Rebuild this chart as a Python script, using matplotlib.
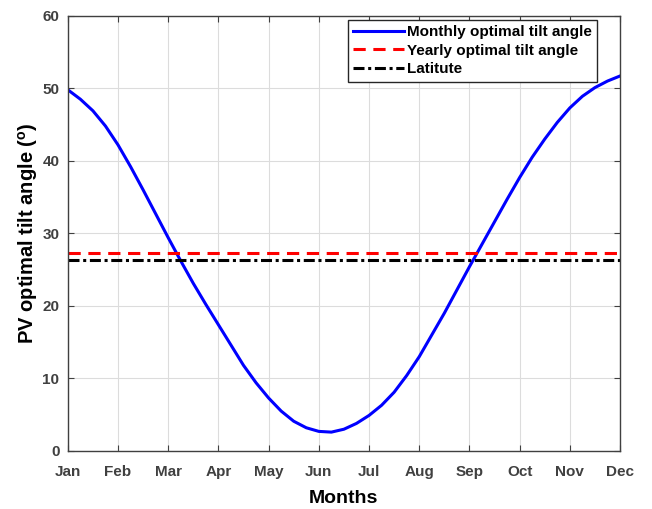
import numpy as np
import matplotlib
matplotlib.use('Agg')
import matplotlib.pyplot as plt

plt.rcParams['font.family'] = ['Liberation Sans', 'DejaVu Sans']
plt.rcParams['mathtext.fontset'] = 'custom'
plt.rcParams['mathtext.bf'] = 'Liberation Sans:bold'

months = ['Jan', 'Feb', 'Mar', 'Apr', 'May', 'Jun',
          'Jul', 'Aug', 'Sep', 'Oct', 'Nov', 'Dec']

# positions in months (1 = Jan) and tilt values, every quarter month
month_pos = [1.0, 1.25, 1.5, 1.75, 2.0, 2.25, 2.5, 2.75,
             3.0, 3.25, 3.5, 3.75, 4.0, 4.25, 4.5, 4.75,
             5.0, 5.25, 5.5, 5.75, 6.0, 6.25, 6.5, 6.75,
             7.0, 7.25, 7.5, 7.75, 8.0, 8.25, 8.5, 8.75,
             9.0, 9.25, 9.5, 9.75, 10.0, 10.25, 10.5, 10.75,
             11.0, 11.25, 11.5, 11.75, 12.0]
monthly_tilt = [49.8, 48.5, 46.9, 44.8, 42.2, 39.2, 36.0, 32.7,
                29.4, 26.2, 23.1, 20.2, 17.4, 14.6, 11.8, 9.4,
                7.3, 5.5, 4.1, 3.2, 2.7, 2.6, 3.0, 3.8,
                4.9, 6.3, 8.1, 10.4, 13.0, 16.0, 19.0, 22.2,
                25.4, 28.5, 31.6, 34.7, 37.7, 40.5, 43.0, 45.3,
                47.3, 48.9, 50.1, 51.0, 51.7]
yearly_tilt = 27.35
latitude = 26.3

fig = plt.figure(figsize=(6.52, 5.09), dpi=100)
ax = fig.add_axes([0.104, 0.114, 0.847, 0.855])

ax.plot(month_pos, monthly_tilt, color='#0000ff', lw=2.2, label='Monthly optimal tilt angle')
ax.plot([1, 12], [yearly_tilt, yearly_tilt], color='#ff0000', lw=2.2,
        ls=(0, (4, 2.5)), label='Yearly optimal tilt angle')
ax.plot([1, 12], [latitude, latitude], color='black', lw=2.2,
        ls=(0, (3.6, 1.2, 1, 1.2)), label='Latitute')

ax.set_xlim(1, 12)
ax.set_ylim(0, 60)
ax.set_xticks(range(1, 13))
ax.set_xticklabels(months)
ax.set_yticks(range(0, 61, 10))
ax.grid(True, color='#dcdcdc', lw=0.8)
ax.tick_params(direction='in', top=True, right=True, colors='#404040',
               labelsize=11, length=4)
ax.tick_params(axis='x', pad=10)
ax.tick_params(axis='y', pad=6)
for lab in ax.get_xticklabels() + ax.get_yticklabels():
    lab.set_fontweight('bold')
for s in ax.spines.values():
    s.set_color('#404040')
    s.set_linewidth(1)

ax.set_xlabel('Months', fontsize=14, fontweight='bold', labelpad=8)
ax.set_ylabel(r'PV optimal tilt angle ($^{\mathbf{o}}$)', fontsize=14.5,
              fontweight='bold', labelpad=2)

leg = ax.legend(loc='upper right', bbox_to_anchor=(0.958, 0.991),
                prop={'weight': 'bold', 'size': 11},
                fancybox=False, edgecolor='#262626', framealpha=1,
                handlelength=3.3, handletextpad=0.2, borderaxespad=0,
                borderpad=0.35, labelspacing=0.3)
leg.get_frame().set_linewidth(1)

fig.savefig('out.png', dpi=100)
